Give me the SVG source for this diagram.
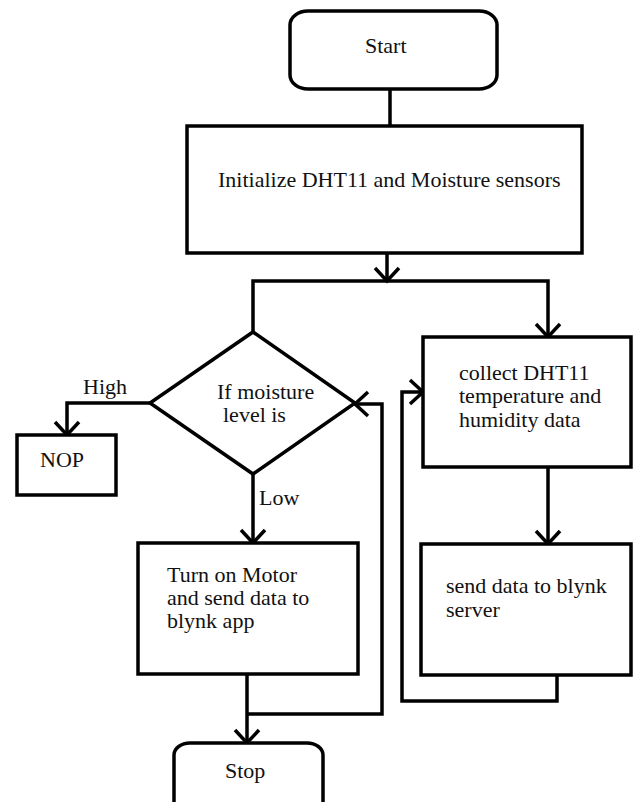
<svg xmlns="http://www.w3.org/2000/svg" width="640" height="802" viewBox="0 0 640 802">
  <style>
    .shape { fill: #fff; stroke: #000; stroke-width: 3.5; }
    .line { fill: none; stroke: #000; stroke-width: 3.5; stroke-linejoin: miter; }
    text { font-family: 'Liberation Serif', 'DejaVu Serif', 'Times New Roman', serif; font-size: 22px; fill: #111; }
  </style>
  <defs>
    <marker id="arr" markerUnits="userSpaceOnUse" viewBox="-16 -14 20 28" markerWidth="20" markerHeight="28" refX="0" refY="0" orient="auto" overflow="visible">
      <path d="M-13,-12 L0,0 L-13,12" fill="none" stroke="#000" stroke-width="3.5"/>
    </marker>
  </defs>
  <rect width="640" height="802" fill="#fff"/>

  <g id="connectors">
    <path class="line" d="M390,89 L390,126"/>
    <path class="line" d="M387,253 L387,281" marker-end="url(#arr)"/>
    <path class="line" d="M253,332 L253,281 L548,281 L548,337" marker-end="url(#arr)"/>
    <path class="line" d="M150,403 L67,403 L67,435" marker-end="url(#arr)"/>
    <path class="line" d="M253,474 L253,543" marker-end="url(#arr)"/>
    <path class="line" d="M247,674 L247,743" marker-end="url(#arr)"/>
    <path class="line" d="M247,714 L382,714 L382,404 L355,404" marker-end="url(#arr)"/>
    <path class="line" d="M548,467 L548,544" marker-end="url(#arr)"/>
    <path class="line" d="M557,675 L557,701 L402,701 L402,392 L423,392" marker-end="url(#arr)"/>
    <text x="83" y="394">High</text>
    <text x="259" y="505">Low</text>
  </g>

  <g id="start">
    <rect class="shape" x="290" y="11" width="207" height="78" rx="18" ry="14"/>
    <text x="365" y="53">Start</text>
  </g>

  <g id="init">
    <rect class="shape" x="187" y="126" width="395" height="127"/>
    <text x="218" y="187">Initialize DHT11 and Moisture sensors</text>
  </g>

  <g id="decision">
    <polygon class="shape" points="253,332 355,403 253,474 150,403"/>
    <text x="217" y="399">If moisture</text>
    <text x="223" y="422">level is</text>
  </g>

  <g id="nop">
    <rect class="shape" x="17" y="435" width="99" height="60"/>
    <text x="40" y="467">NOP</text>
  </g>

  <g id="motor">
    <rect class="shape" x="138" y="543" width="220" height="131"/>
    <text x="167" y="582">Turn on Motor</text>
    <text x="167" y="605">and send data to</text>
    <text x="167" y="628">blynk app</text>
  </g>

  <g id="collect">
    <rect class="shape" x="423" y="337" width="208" height="130"/>
    <text x="459" y="380">collect DHT11</text>
    <text x="459" y="403">temperature and</text>
    <text x="459" y="427">humidity data</text>
  </g>

  <g id="send">
    <rect class="shape" x="421" y="544" width="210" height="131"/>
    <text x="446" y="593">send data to blynk</text>
    <text x="446" y="617">server</text>
  </g>

  <g id="stop">
    <rect class="shape" x="174" y="743" width="149" height="76" rx="16" ry="12"/>
    <text x="225" y="778">Stop</text>
  </g>
</svg>
